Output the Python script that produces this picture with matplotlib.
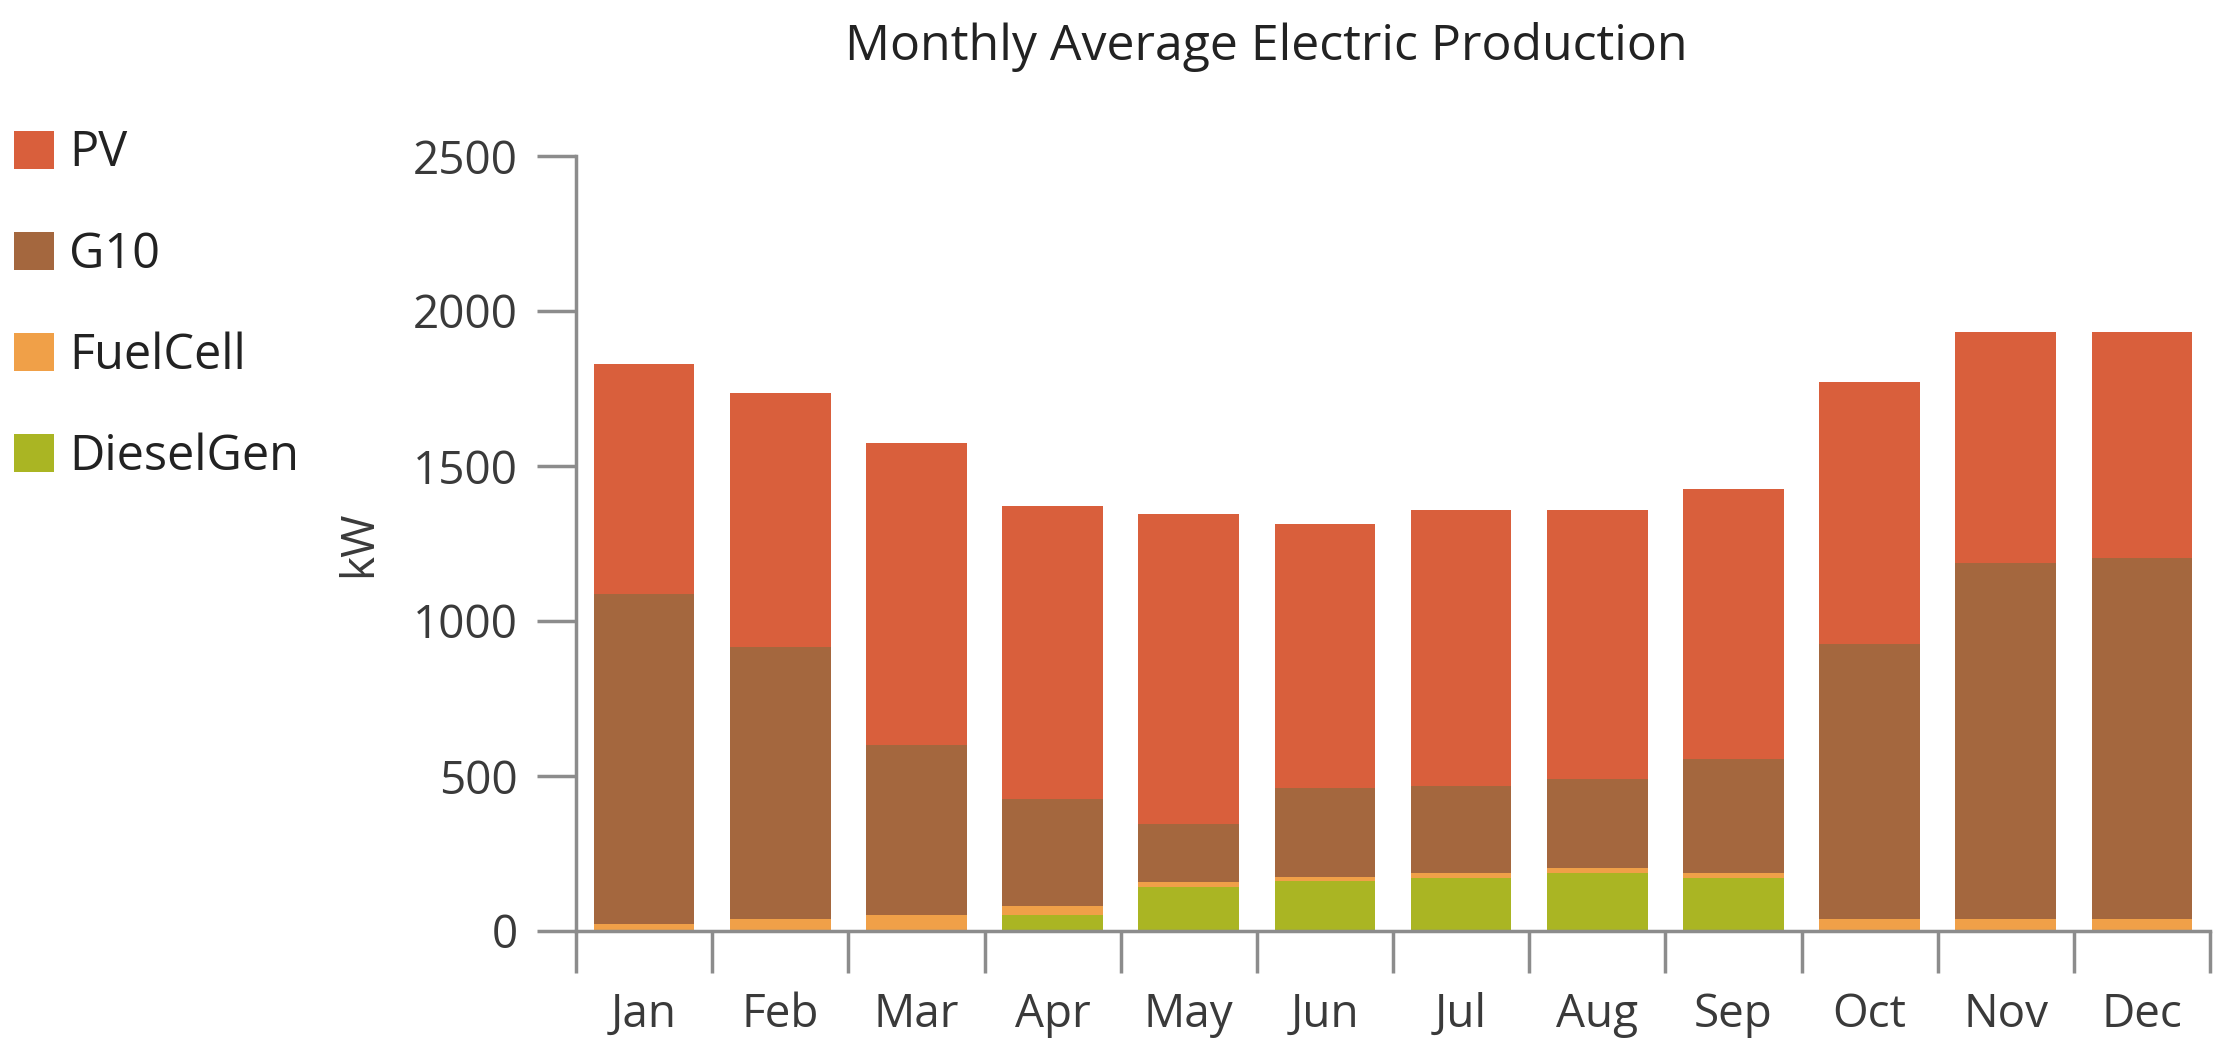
import matplotlib
matplotlib.use("Agg")
import matplotlib.pyplot as plt
import numpy as np
from matplotlib.patches import Patch

months = ["Jan", "Feb", "Mar", "Apr", "May", "Jun", "Jul", "Aug", "Sep", "Oct", "Nov", "Dec"]
diesel = [0, 0, 0, 52, 142, 160, 172, 188, 172, 0, 0, 0]
fuelcell = [22, 40, 52, 30, 16, 14, 14, 14, 14, 38, 38, 38]
g10 = [1065, 877, 549, 343, 186, 286, 283, 287, 369, 889, 1150, 1164]
pv_total = [1830, 1734, 1573, 1372, 1344, 1312, 1358, 1358, 1427, 1771, 1931, 1931]

series_names = ["PV", "G10", "FuelCell", "DieselGen"]
colors = {"PV": "#D95F3C", "G10": "#A4673E", "FuelCell": "#F0A048", "DieselGen": "#AAB523"}

plt.rcParams['font.family'] = ['Open Sans', 'DejaVu Sans']

W, H = 2228, 1056
FS = 33
fig = plt.figure(figsize=(W / 100, H / 100), dpi=100)
ax = fig.add_axes([576 / W, 1 - 931 / H, (2210 - 576) / W, (931 - 156) / H])

x = np.arange(len(months))
diesel_a = np.array(diesel, float)
fuel_a = np.array(fuelcell, float)
g10_a = np.array(g10, float)
pv_a = np.array(pv_total, float) - diesel_a - fuel_a - g10_a

bw = 0.74
ax.bar(x, diesel_a, bw, color=colors["DieselGen"], linewidth=0)
ax.bar(x, fuel_a, bw, bottom=diesel_a, color=colors["FuelCell"], linewidth=0)
ax.bar(x, g10_a, bw, bottom=diesel_a + fuel_a, color=colors["G10"], linewidth=0)
ax.bar(x, pv_a, bw, bottom=diesel_a + fuel_a + g10_a, color=colors["PV"], linewidth=0)

ax.set_xlim(-0.5, len(months) - 0.5)
ax.set_ylim(0, 2500)
ax.set_yticks([0, 500, 1000, 1500, 2000, 2500])
ax.set_xticks(np.arange(-0.5, len(months), 1.0))
ax.set_xticklabels([])
ax.set_xticks(x, minor=True)
ax.set_xticklabels(months, minor=True)
ax.tick_params(axis='x', which='minor', length=0, pad=44, labelsize=FS, labelcolor="#3a3a3a")
ax.tick_params(axis='x', which='major', length=30, width=2.5, color="#8c8c8c")
ax.tick_params(axis='y', length=28, width=2.5, color="#8c8c8c", labelsize=FS, labelcolor="#3a3a3a", pad=14)

for s in ["top", "right"]:
    ax.spines[s].set_visible(False)
for s in ["left", "bottom"]:
    ax.spines[s].set_color("#8c8c8c")
    ax.spines[s].set_linewidth(2.5)
ax.spines["left"].set_bounds(0, 2500)

ax.set_ylabel("kW", fontsize=FS, color="#3a3a3a", labelpad=22)
fig.text(1266 / W, 1 - 47 / H, "Monthly Average Electric Production",
         ha="center", va="center", fontsize=36, color="#222222")

handles = [Patch(facecolor=colors[n], edgecolor="none") for n in series_names]
leg = fig.legend(handles, series_names, loc="upper left", bbox_to_anchor=(14 / W, 1 - 129 / H),
                 frameon=False, fontsize=35, handlelength=0.82, handleheight=0.82,
                 handletextpad=0.32, labelspacing=1.06, borderaxespad=0, borderpad=0)
for t in leg.get_texts():
    t.set_color("#222222")

fig.savefig("out.png", dpi=100, facecolor="white")
